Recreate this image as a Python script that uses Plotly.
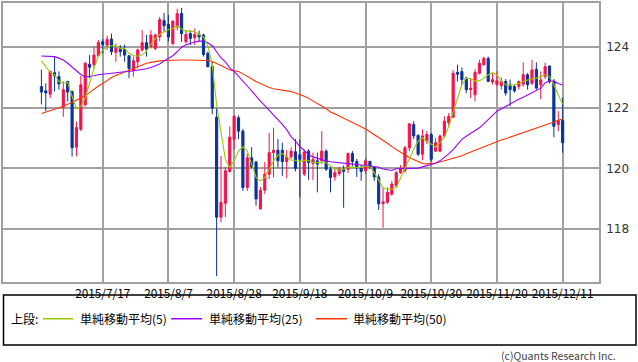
import pandas as pd
import plotly.graph_objects as go

# ---------------- data ----------------
dates = [f"{d.year}/{d.month}/{d.day}" for d in pd.bdate_range("2015-06-29", "2015-12-11")]

opens = [122.70,122.56,122.45,123.16,123.03,122.02,122.87,122.54,120.70,121.29,
         122.10,123.44,123.42,123.72,124.18,124.07,124.27,123.83,123.96,123.93,
         123.72,123.23,123.52,123.91,124.15,124.02,123.96,124.34,124.88,124.75,
         124.12,124.67,125.11,124.18,124.45,124.31,124.42,124.40,123.80,123.36,
         121.69,118.39,118.85,119.90,120.96,121.67,121.23,119.37,120.35,120.21,
         118.66,119.28,119.81,120.52,120.60,120.60,120.22,120.38,120.55,120.45,
         119.81,120.57,120.16,120.25,120.25,120.57,119.97,119.72,119.83,119.97,
         119.97,120.49,120.23,120.01,119.92,120.23,120.03,119.72,118.83,118.88,
         119.15,119.43,119.86,119.92,120.68,121.45,121.09,120.47,120.90,121.12,
         120.57,120.57,121.07,121.50,121.69,123.17,123.20,122.98,122.60,122.43,
         123.14,123.42,123.63,122.85,122.77,122.73,122.87,122.76,122.70,122.70,
         122.78,123.09,122.81,123.27,122.76,123.03,123.38,122.87,121.45,121.58]
highs = [123.26,122.81,123.23,123.69,123.20,122.87,122.89,122.57,121.55,123.05,
         123.52,123.74,124.00,124.24,124.27,124.38,124.45,124.12,124.07,124.09,
         123.74,123.69,123.96,124.56,124.40,124.56,124.45,125.00,125.13,125.06,
         124.89,125.27,125.30,124.56,124.56,124.62,124.55,124.45,123.85,123.52,
         121.99,120.41,120.05,121.39,121.75,121.75,121.30,120.49,120.70,120.25,
         119.39,120.21,121.17,121.34,120.97,120.85,120.60,120.70,120.97,120.95,
         120.60,120.64,120.52,120.52,121.23,120.63,120.05,119.98,120.05,120.10,
         120.52,120.57,120.31,120.11,120.35,120.25,120.08,119.81,119.37,119.37,
         119.59,119.92,120.11,120.74,121.50,121.56,121.12,121.29,121.23,121.17,
         121.01,121.12,121.72,121.83,123.25,123.42,123.33,123.03,122.98,123.27,
         123.59,123.69,123.69,123.14,123.20,123.00,122.95,122.93,122.75,122.90,
         123.50,123.15,123.58,123.50,123.20,123.49,123.40,122.95,121.89,122.34]
lows = [122.11,121.89,122.32,122.54,122.60,121.70,122.21,120.39,120.40,121.23,
        122.05,122.98,123.30,123.69,123.80,123.91,123.74,123.52,123.69,123.52,
        122.98,123.03,123.30,123.85,123.69,123.96,123.90,124.20,124.51,124.20,
        124.07,124.56,124.18,124.12,124.07,124.07,124.20,123.69,123.33,121.79,
        116.44,118.22,118.39,119.86,120.63,120.97,119.26,119.26,120.00,118.77,
        118.66,119.16,119.65,119.70,120.03,119.75,119.68,120.31,119.90,119.05,
        119.75,119.62,119.62,119.21,120.14,119.92,119.21,119.59,119.75,118.70,
        119.85,120.08,119.72,119.59,119.81,119.98,119.59,118.63,118.04,118.83,
        119.10,119.36,119.82,119.86,120.57,120.97,120.41,120.27,120.80,120.22,
        120.54,120.54,121.00,121.39,121.66,122.87,122.76,122.48,122.32,122.21,
        123.10,123.39,122.85,122.77,122.70,122.60,122.40,122.05,122.50,122.60,
        122.70,122.60,122.75,122.60,122.28,122.95,122.80,121.03,121.23,120.52]
closes = [122.52,122.49,123.20,123.06,122.79,122.60,122.52,120.68,121.35,122.76,
          123.47,123.34,123.74,124.16,124.09,124.26,123.85,123.96,123.85,123.74,
          123.30,123.55,123.91,124.15,123.93,124.40,124.40,124.91,124.71,124.34,
          124.86,125.11,124.45,124.42,124.29,124.42,124.34,123.76,123.36,121.99,
          118.39,118.88,119.92,121.03,121.72,121.23,119.37,120.35,120.05,118.99,
          119.28,119.81,120.52,120.60,120.25,120.22,120.38,120.57,120.00,120.30,
          120.54,120.19,120.30,120.14,120.57,119.97,119.70,119.86,119.97,119.90,
          120.49,120.23,120.01,119.90,120.25,120.03,119.72,118.83,118.90,119.21,
          119.48,119.86,120.00,120.68,121.47,121.07,120.47,121.07,121.12,120.30,
          120.85,121.07,121.56,121.72,123.14,123.11,122.93,122.60,122.65,123.17,
          123.47,123.63,122.87,122.93,122.90,122.87,122.49,122.60,122.56,122.87,
          123.09,122.76,123.25,122.65,122.92,123.36,122.87,121.39,121.58,120.85]

sma5 = [123.55,123.36,123.17,123.09,122.87,122.81,122.84,122.38,121.97,122.05,
        122.32,122.81,123.30,123.69,123.91,123.99,124.05,124.04,123.96,123.96,
        123.80,123.72,123.71,123.74,123.88,124.09,124.29,124.42,124.51,124.58,
        124.62,124.70,124.60,124.53,124.53,124.51,124.42,124.34,124.05,123.42,
        122.10,121.23,120.30,120.03,120.25,120.57,120.71,120.57,120.14,119.70,
        119.59,119.70,119.97,120.25,120.44,120.49,120.38,120.27,120.27,120.22,
        120.27,120.25,120.19,120.19,120.22,120.19,120.08,119.97,119.94,119.97,
        120.03,120.05,120.03,120.03,120.08,120.05,119.86,119.59,119.35,119.32,
        119.32,119.37,119.70,120.03,120.35,120.63,120.90,121.01,120.90,120.79,
        120.70,120.85,121.03,121.39,121.83,122.32,122.76,122.98,122.96,122.89,
        122.89,122.98,123.09,123.16,123.09,122.87,122.76,122.74,122.76,122.81,
        122.87,122.92,122.96,122.98,123.03,123.09,123.03,122.76,122.43,122.12]
sma25 = [123.71,123.70,123.70,123.69,123.64,123.58,123.47,123.35,123.22,123.10,
         123.02,123.03,123.06,123.09,123.11,123.13,123.14,123.16,123.18,123.19,
         123.20,123.22,123.25,123.27,123.29,123.33,123.38,123.45,123.55,123.64,
         123.72,123.85,124.00,124.08,124.13,124.17,124.20,124.20,124.15,124.05,
         123.85,123.65,123.52,123.32,123.20,123.05,122.90,122.72,122.56,122.38,
         122.22,122.07,121.92,121.77,121.60,121.45,121.28,121.05,120.90,120.72,
         120.60,120.45,120.38,120.33,120.28,120.24,120.22,120.20,120.19,120.18,
         120.16,120.14,120.13,120.12,120.10,120.08,120.06,120.04,119.98,119.95,
         119.93,119.99,119.99,119.99,119.99,120.00,120.01,120.05,120.09,120.12,
         120.17,120.25,120.35,120.48,120.62,120.80,120.96,121.06,121.15,121.25,
         121.34,121.47,121.60,121.75,121.89,121.97,122.05,122.14,122.20,122.28,
         122.35,122.43,122.50,122.57,122.65,122.82,122.89,122.88,122.80,122.75]
sma50 = [121.81,121.85,121.90,121.95,122.00,122.05,122.12,122.18,122.25,122.32,
         122.40,122.50,122.62,122.72,122.80,122.90,123.00,123.07,123.13,123.19,
         123.25,123.30,123.36,123.42,123.47,123.50,123.53,123.55,123.56,123.57,
         123.58,123.58,123.58,123.58,123.58,123.57,123.57,123.57,123.56,123.53,
         123.47,123.40,123.32,123.25,123.22,123.20,123.12,123.03,122.95,122.87,
         122.80,122.73,122.67,122.63,122.60,122.58,122.56,122.54,122.50,122.44,
         122.38,122.32,122.22,122.15,122.06,121.97,121.86,121.80,121.73,121.66,
         121.58,121.52,121.45,121.37,121.30,121.21,121.12,121.02,120.92,120.83,
         120.72,120.62,120.52,120.44,120.36,120.29,120.22,120.16,120.15,120.16,
         120.18,120.21,120.25,120.29,120.34,120.38,120.42,120.48,120.54,120.60,
         120.66,120.72,120.78,120.84,120.90,120.94,120.98,121.03,121.07,121.11,
         121.16,121.22,121.27,121.31,121.36,121.41,121.47,121.53,121.59,121.63]

x_ticks = ["2015/7/17", "2015/8/7", "2015/8/28", "2015/9/18",
           "2015/10/9", "2015/10/30", "2015/11/20", "2015/12/11"]
y_ticks = [118, 120, 122, 124]
ma_names = ["単純移動平均(5)", "単純移動平均(25)", "単純移動平均(50)"]
ma_colors = ["#99cc00", "#9900ff", "#ff3300"]

UP = "#f5134b"
DOWN = "#0a3399"
JP = "Noto Sans CJK JP"

fig = go.Figure()
fig.add_trace(go.Candlestick(
    x=dates, open=opens, high=highs, low=lows, close=closes,
    increasing=dict(line=dict(color=UP, width=1), fillcolor=UP),
    decreasing=dict(line=dict(color=DOWN, width=1), fillcolor=DOWN),
    whiskerwidth=0, showlegend=False, hoverinfo="skip"))
for vals, col in zip([sma50, sma25, sma5], [ma_colors[2], ma_colors[1], ma_colors[0]]):
    fig.add_trace(go.Scatter(x=dates, y=vals, mode="lines",
                             line=dict(color=col, width=1.1, shape="linear"),
                             showlegend=False, hoverinfo="skip"))

W, H = 638, 362
L, R, T, B = 3, 39, 1, 80
pw, ph = W - L - R, H - T - B

def px(xp):
    return (xp - L) / pw

def py(yp):
    return (H - B - yp) / ph

shapes = []
annotations = []
# legend box
shapes.append(dict(type="rect", xref="paper", yref="paper",
                   x0=px(3.5), x1=px(636), y0=py(295), y1=py(345.5),
                   line=dict(color="#000000", width=1.5), fillcolor="rgba(0,0,0,0)"))
annotations.append(dict(text="上段:", xref="paper", yref="paper", x=px(9), y=py(319),
                        xanchor="left", yanchor="middle", showarrow=False,
                        font=dict(family=JP, size=12, color="#000")))
seg = [(43, 73, 78), (171, 202, 207), (316, 347, 351)]
for (a, b, t), name, col in zip(seg, ma_names, ma_colors):
    shapes.append(dict(type="line", xref="paper", yref="paper",
                       x0=px(a), x1=px(b), y0=py(319), y1=py(319),
                       line=dict(color=col, width=1.5)))
    annotations.append(dict(text=name, xref="paper", yref="paper", x=px(t), y=py(319),
                            xanchor="left", yanchor="middle", showarrow=False,
                            font=dict(family=JP, size=12, color="#000")))
annotations.append(dict(text="(c)Quants Research Inc.", xref="paper", yref="paper",
                        x=px(618), y=py(356), xanchor="right", yanchor="middle",
                        showarrow=False, font=dict(family=JP, size=10.5, color="#444")))

fig.update_layout(
    width=W, height=H, margin=dict(l=L, r=R, t=T, b=B),
    paper_bgcolor="white", plot_bgcolor="white",
    showlegend=False, hovermode=False,
    shapes=shapes, annotations=annotations,
    xaxis=dict(type="category", range=[-8.77, 127.3], rangeslider=dict(visible=False),
               tickmode="array", tickvals=x_ticks, ticktext=x_ticks,
               showgrid=True, gridcolor="#a0a0a0", gridwidth=1.5,
               showline=True, linecolor="#a0a0a0", linewidth=1.5, mirror=True,
               ticks="", tickfont=dict(family=JP, size=11.8, color="#000"), zeroline=False),
    yaxis=dict(side="right", range=[116.25, 125.46], tickmode="array", tickvals=y_ticks,
               ticktext=[str(v) for v in y_ticks],
               showgrid=True, gridcolor="#a0a0a0", gridwidth=1.5,
               showline=True, linecolor="#a0a0a0", linewidth=1.5, mirror=True,
               ticks="", ticklabelstandoff=3,
               tickfont=dict(family="DejaVu Sans", size=12, color="#333"), zeroline=False),
)

fig.write_html("out.html", config={"displayModeBar": False},
               post_script="document.body.style.margin='0px';")
